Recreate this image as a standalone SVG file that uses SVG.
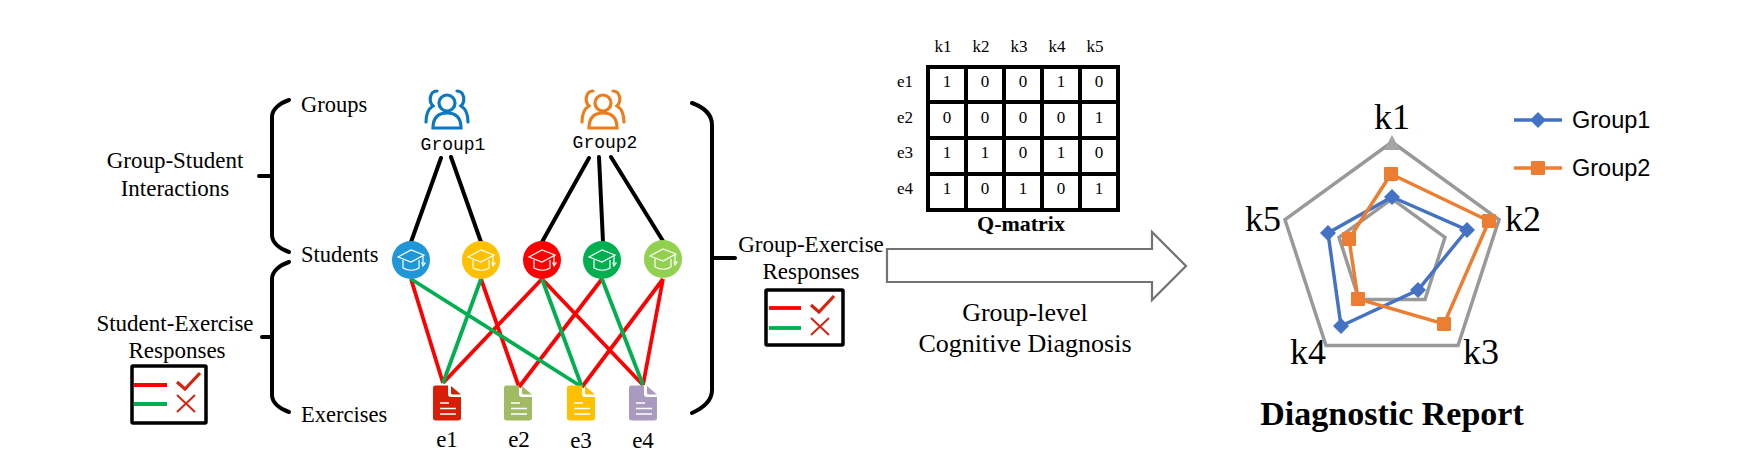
<svg xmlns="http://www.w3.org/2000/svg" xmlns:xlink="http://www.w3.org/1999/xlink" width="1749" height="471" viewBox="0 0 1749 471">
<style>
text{font-family:"Liberation Serif","Times New Roman",serif;fill:#000}
.l{font-size:22.5px}
.t{font-size:23px;text-anchor:middle}
.d{font-size:26px;text-anchor:middle}
.m{font-size:17px;text-anchor:middle}
.e{font-size:23px;text-anchor:middle}
.k{font-size:36px;text-anchor:middle}
.gn{font-family:"Liberation Mono",monospace;font-size:18px;text-anchor:middle}
.b{font-weight:bold;text-anchor:middle}
.s{font-family:"Liberation Sans",Arial,sans-serif;font-size:23.5px}
.bk{stroke:#000;stroke-width:4;fill:none;stroke-linecap:round}
.r{stroke:#f00;stroke-width:3.8;fill:none}
.gr{stroke:#00b050;stroke-width:3.8;fill:none}
.radar{fill:none;stroke:#999;stroke-width:3.5}
.blue{fill:#4472c4}
.orange{fill:#ed7d31}
</style>
<defs>
<g id="cap" fill="none" stroke="#fff" stroke-width="1.2"><path d="M-13 -3L0 -10L13 -5L0 2Z"/><path d="M-8 0V8C-3 11 4 11 8 8V0"/><path d="M12 -4V3M11 3L12 6L14 3Z"/></g>
<g id="doc"><path d="M-12 -17.5H1V-9Q1 -6 4 -6H14V15Q14 17.5 11 17.5H-11Q-14 17.5 -14 15V-15Q-14 -17.5 -12 -17.5Z"/><path d="M4 -17L14 -8.5H6Q4 -8.5 4 -10Z"/><path d="M-7 0H2M-7 5.5H9M-7 11H9" stroke="#fff" stroke-width="1.4" fill="none"/></g>
<g id="people" fill="none" stroke-width="3.2" stroke-linecap="round"><circle cx="0" cy="0" r="8"/><path d="M-14 25C-14 14 -8 10 0 10C8 10 14 14 14 25Z"/><path d="M-10 -12C-17 -12 -19 -2 -14 3C-19 6 -21 13 -21 19M10 -12C17 -12 19 -2 14 3C19 6 21 13 21 19"/></g>
<g id="tick"><path d="M45 16L53 23L68 7" fill="none" stroke="#d9230f" stroke-width="3.2"/><path d="M45 29L63 46M63 29L45 46" fill="none" stroke="#d9230f" stroke-width="2"/></g>
<path id="dia" d="M0 -8L8 0L0 8L-8 0Z"/>
<rect id="sq" x="-7" y="-7" width="14" height="14" rx="1"/>
</defs>
<rect width="1749" height="471" fill="#fff"/>

<g id="connectors">
<path class="bk" d="M441 158L411 242M451 157L481 242M589 158L542 242M599 157L603 242M611 157L663 241" stroke-linecap="butt"/>
<path class="r" d="M411 279L443 383M481 279L519 387M542 279L443 383M542 279L643 385M602 279L519 387M663 279L582 387M663 279L643 385"/>
<path class="gr" d="M411 279L582 387M481 279L443 383M542 279L582 387M602 279L643 385"/>
</g>

<g id="braces">
<path class="bk" d="M289 100C280 103 272 109 272 117V235C272 243 280 249 289 252M259 176H272"/>
<path class="bk" d="M289 262C280 265 272 271 272 279V395C272 403 280 409 289 412M262 337H272"/>
<path class="bk" d="M692 103C703 107 712 114 712 125V390C712 401 703 408 692 413M712 258H735"/>
</g>

<g id="labels">
<text class="l" x="301" y="112">Groups</text>
<text class="l" x="301" y="262">Students</text>
<text class="l" x="301" y="422">Exercises</text>
<text class="t" x="175" y="168">Group-Student</text>
<text class="t" x="175" y="196">Interactions</text>
<text class="t" x="175" y="331">Student-Exercise</text>
<text class="t" x="177" y="358">Responses</text>
<text class="t" x="811" y="252">Group-Exercise</text>
<text class="t" x="811" y="279">Responses</text>
<text class="d" x="1025" y="321">Group-level</text>
<text class="d" x="1025" y="352">Cognitive Diagnosis</text>
</g>

<g id="group1"><use href="#people" x="447" y="103" stroke="#0a78c3"/><text class="gn" x="453" y="150">Group1</text></g>
<g id="group2"><use href="#people" x="603" y="103" stroke="#ed7d1b"/><text class="gn" x="605" y="148">Group2</text></g>

<g id="student1"><circle cx="411" cy="260" r="19" fill="#1e96d8"/><use href="#cap" x="411" y="260"/></g>
<g id="student2"><circle cx="481" cy="260" r="19" fill="#ffc000"/><use href="#cap" x="481" y="260"/></g>
<g id="student3"><circle cx="542" cy="260" r="19" fill="#f00"/><use href="#cap" x="542" y="260"/></g>
<g id="student4"><circle cx="602" cy="260" r="19" fill="#00b050"/><use href="#cap" x="602" y="260"/></g>
<g id="student5"><circle cx="663" cy="259" r="19" fill="#92d050"/><use href="#cap" x="663" y="259"/></g>

<g id="e1"><use href="#doc" x="447" y="403" fill="#d81e06"/><text class="e" x="447" y="447">e1</text></g>
<g id="e2"><use href="#doc" x="518" y="403" fill="#a1bb65"/><text class="e" x="519" y="447">e2</text></g>
<g id="e3"><use href="#doc" x="581" y="403" fill="#ffc000"/><text class="e" x="581" y="448">e3</text></g>
<g id="e4"><use href="#doc" x="643" y="403" fill="#ab9ac0"/><text class="e" x="643" y="448">e4</text></g>

<g id="legend-student"><rect x="132" y="366" width="74" height="57" fill="#fff" stroke="#000" stroke-width="3.5" rx="1"/><path class="r" d="M134 385H167"/><path class="gr" d="M134 404H167"/><use href="#tick" x="132" y="366"/></g>
<g id="legend-group"><rect x="766" y="290" width="77" height="55" fill="#fff" stroke="#000" stroke-width="3.5" rx="1"/><path class="r" d="M769 308H801"/><path class="gr" d="M769 328H801"/><use href="#tick" x="766" y="289"/></g>

<g id="q-matrix">
<path d="M928 67H1118V210H928ZM966 67V210M1004 67V210M1042 67V210M1080 67V210M928 102H1118M928 138H1118M928 174H1118" fill="#fff" stroke="#000" stroke-width="4"/>
<text class="m" x="943" y="52">k1</text><text class="m" x="981" y="52">k2</text><text class="m" x="1019" y="52">k3</text><text class="m" x="1057" y="52">k4</text><text class="m" x="1095" y="52">k5</text>
<text class="m" x="905" y="87">e1</text><text class="m" x="905" y="123">e2</text><text class="m" x="905" y="158">e3</text><text class="m" x="905" y="194">e4</text>
<text class="m" x="947" y="87">1</text><text class="m" x="985" y="87">0</text><text class="m" x="1023" y="87">0</text><text class="m" x="1061" y="87">1</text><text class="m" x="1099" y="87">0</text>
<text class="m" x="947" y="123">0</text><text class="m" x="985" y="123">0</text><text class="m" x="1023" y="123">0</text><text class="m" x="1061" y="123">0</text><text class="m" x="1099" y="123">1</text>
<text class="m" x="947" y="158">1</text><text class="m" x="985" y="158">1</text><text class="m" x="1023" y="158">0</text><text class="m" x="1061" y="158">1</text><text class="m" x="1099" y="158">0</text>
<text class="m" x="947" y="194">1</text><text class="m" x="985" y="194">0</text><text class="m" x="1023" y="194">1</text><text class="m" x="1061" y="194">0</text><text class="m" x="1099" y="194">1</text>
<text class="b" x="1021" y="231" style="font-size:22px">Q-matrix</text>
</g>

<g id="big-arrow"><path d="M887 249H1152V232L1186 266L1152 300V282H887Z" fill="#fff" stroke="#767171" stroke-width="2.2"/></g>

<g id="radar">
<path class="radar" d="M1392 142L1499 219.7L1458 345.5H1326L1285 219.7Z"/>
<path class="radar" d="M1392 198.8L1445 237.3L1425 299.6H1359L1339 237.3Z"/>
<path d="M1392 135L1384 150H1400Z" fill="#a5a5a5"/>
<path d="M1392 197L1467 230L1418 290L1341 326L1328 233Z" fill="none" stroke="#4472c4" stroke-width="3.5"/>
<path d="M1391 174L1489 221L1444 324L1358 299L1349 239Z" fill="none" stroke="#ed7d31" stroke-width="3.5"/>
<g class="blue"><use href="#dia" x="1392" y="197"/><use href="#dia" x="1467" y="230"/><use href="#dia" x="1418" y="290"/><use href="#dia" x="1341" y="326"/><use href="#dia" x="1328" y="233"/></g>
<g class="orange"><use href="#sq" x="1391" y="174"/><use href="#sq" x="1489" y="221"/><use href="#sq" x="1444" y="324"/><use href="#sq" x="1358" y="299"/><use href="#sq" x="1349" y="239"/></g>
<text class="k" x="1392" y="129">k1</text><text class="k" x="1523" y="231">k2</text><text class="k" x="1481" y="364">k3</text><text class="k" x="1308" y="364">k4</text><text class="k" x="1263" y="231">k5</text>
<text class="b" x="1392" y="425" style="font-size:34px">Diagnostic Report</text>
</g>

<g id="radar-legend">
<path d="M1514 120H1562" stroke="#4472c4" stroke-width="3.5"/><use href="#dia" x="1538" y="120" class="blue"/>
<text class="s" x="1572" y="128">Group1</text>
<path d="M1514 168H1562" stroke="#ed7d31" stroke-width="3.5"/><use href="#sq" x="1538" y="168" class="orange"/>
<text class="s" x="1572" y="176">Group2</text>
</g>
</svg>
